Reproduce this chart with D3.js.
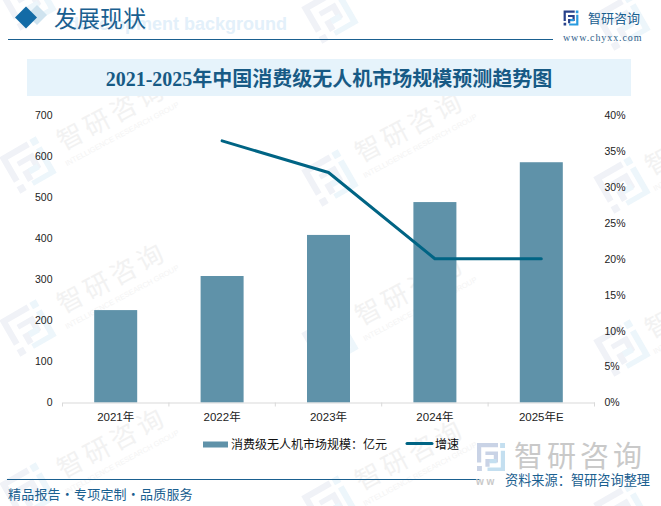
<!DOCTYPE html>
<html>
<head>
<meta charset="utf-8">
<script src="https://cdn.jsdelivr.net/npm/d3@7/dist/d3.min.js"></script>
<style>
html,body{margin:0;padding:0;background:#fff;overflow:hidden}
svg{display:block}
text{font-family:"Liberation Sans","Noto Sans CJK SC",sans-serif}
</style>
</head>
<body>
<div id="chart"></div>
<script>
var years = ["2021年","2022年","2023年","2024年","2025年E"];
var marketSize = [225,308,408,488,585];
var growth = [null,36.4,32,20,20];
var leftTicks = [0,100,200,300,400,500,600,700];
var rightTicks = [0,5,10,15,20,25,30,35,40];
var wmLogos = [[28,2],[330,15],[622,22],[28,165],[28,328],[28,491],[330,178],[330,341],[330,504],[622,185],[622,348],[622,511]];
var wmTexts = [[112,115],[112,278],[112,443],[410,127],[410,290],[410,455],[700,140],[700,303]];

var w = 661, h = 506;
var svg = d3.select("#chart").append("svg").attr("width", w).attr("height", h);
var cjk = '"Noto Sans CJK SC",sans-serif';
var blue = "#1a6090";

// logo drawn around 0,0 in a 40x40 box
function logo(g, dark, light) {
	g.append("path").attr("fill", dark)
		.attr("d", "M-20,-20H10V-14H-14V8H-20Z M-8,-8H10V8H-2V14H-8V3H4V-3H-8Z M-20,13H-13V20H-20Z");
	g.append("path").attr("fill", light)
		.attr("d", "M13,-20H20V-13H13Z M13,-9H20V20H-5V15H14V-9Z M-2,3H8V9H-2Z");
}

var marks = svg.append("g");
wmLogos.forEach(function(d) {
	var g = marks.append("g").attr("transform", "translate(" + d[0] + "," + d[1] + ") rotate(-30) scale(1.05)");
	logo(g, "#f0f2f7", "#edf6fb");
});
wmTexts.forEach(function(d) {
	var g = marks.append("g").attr("transform", "translate(" + d[0] + "," + d[1] + ") rotate(-28)");
	g.append("text").text("智研咨询").attr("text-anchor", "middle").attr("y", 9)
		.attr("font-size", 26).attr("letter-spacing", 4).attr("fill", "#f2f2f2").style("font-family", cjk);
	g.append("text").text("INTELLIGENCE RESEARCH GROUP").attr("text-anchor", "middle").attr("y", 24)
		.attr("font-size", 7.5).attr("fill", "#f4f4f4");
});

// header
svg.append("text").text("development background").attr("x", 287).attr("y", 29.5).attr("text-anchor", "end")
	.attr("font-size", 18).attr("font-weight", "bold").attr("fill", "#e3f0fa");
svg.append("path").attr("d", "M37,5L47,15L37,25L27,15Z").attr("fill", "#cfe3ef");
svg.append("path").attr("d", "M26,6.5L37,17.5L26,28.5L15,17.5Z").attr("fill", "#136ba6");
svg.append("text").text("发展现状").attr("x", 54).attr("y", 27).attr("font-size", 23)
	.attr("fill", blue).style("font-family", cjk);
svg.append("line").attr("x1", 8).attr("x2", 553).attr("y1", 39.5).attr("y2", 39.5)
	.attr("stroke", blue).attr("stroke-width", 1.2);

var topLogo = svg.append("g").attr("transform", "translate(571,18) scale(0.37)");
logo(topLogo, "#28418a", "#2a9be0");
svg.append("text").text("智研咨询").attr("x", 588).attr("y", 23).attr("font-size", 13)
	.attr("fill", blue).style("font-family", cjk);
svg.append("text").text("www.chyxx.com").attr("x", 563).attr("y", 41).attr("font-size", 10)
	.attr("letter-spacing", 0.9).attr("fill", "#2f5f8a").style("font-family", '"Liberation Serif",serif');

// title band
svg.append("rect").attr("x", 27).attr("y", 59).attr("width", 604).attr("height", 37).attr("fill", "#e6f3fb");
svg.append("text").text("2021-2025年中国消费级无人机市场规模预测趋势图").attr("x", 329).attr("y", 86)
	.attr("text-anchor", "middle").attr("font-size", 20).attr("font-weight", "bold")
	.attr("fill", "#175a85").style("font-family", '"Liberation Serif","Noto Sans CJK SC",serif');

// scales
var x = d3.scaleBand().domain(years).range([62.5, 594.5]);
var yL = d3.scaleLinear().domain([0, 700]).range([402.5, 115]);
var yR = d3.scaleLinear().domain([0, 40]).range([402.5, 115]);
var barW = 43;

svg.selectAll("rect.bar").data(years).enter().append("rect").attr("class", "bar")
	.attr("x", function(d) { return x(d) + x.bandwidth() / 2 - barW / 2; })
	.attr("width", barW)
	.attr("y", function(d, i) { return yL(marketSize[i]); })
	.attr("height", function(d, i) { return yL(0) - yL(marketSize[i]); })
	.attr("fill", "#5f92a9");

// axes
var gx = svg.append("g").attr("transform", "translate(0,402.5)")
	.call(d3.axisBottom(x).tickSize(0).tickPadding(10));
gx.select(".domain").attr("stroke", "#d9d9d9");
gx.selectAll("text").attr("font-size", 11.5).attr("fill", "#222").style("font-family", '"Liberation Sans","Noto Sans CJK SC",sans-serif');
gx.selectAll("line.edge").data(years.concat("end")).enter().append("line").attr("class", "edge")
	.attr("x1", function(d) { return d === "end" ? x.range()[1] : x(d); })
	.attr("x2", function(d) { return d === "end" ? x.range()[1] : x(d); })
	.attr("y1", 0).attr("y2", 4).attr("stroke", "#d9d9d9");

var gl = svg.append("g").attr("transform", "translate(62.5,0)")
	.call(d3.axisLeft(yL).tickValues(leftTicks).tickSize(0).tickPadding(10));
gl.select(".domain").remove();
var gr = svg.append("g").attr("transform", "translate(594.5,0)")
	.call(d3.axisRight(yR).tickValues(rightTicks).tickSize(0).tickPadding(10)
		.tickFormat(function(d) { return d + "%"; }));
gr.select(".domain").remove();
svg.selectAll("g.tick text").filter(function() { return !/年/.test(this.textContent); })
	.attr("font-size", 10.5).attr("fill", "#222").style("font-family", '"Liberation Sans",sans-serif');

// growth line
var line = d3.line()
	.defined(function(d) { return d != null; })
	.x(function(d, i) { return x(years[i]) + x.bandwidth() / 2; })
	.y(function(d) { return yR(d); });
svg.append("path").attr("d", line(growth)).attr("fill", "none").attr("stroke", "#006484")
	.attr("stroke-width", 3).attr("stroke-linecap", "round").attr("stroke-linejoin", "round");

// legend
svg.append("rect").attr("x", 203).attr("y", 441.5).attr("width", 25).attr("height", 6).attr("fill", "#5f92a9");
svg.append("text").text("消费级无人机市场规模\uFF1A亿元").attr("x", 231).attr("y", 449).attr("font-size", 12)
	.attr("fill", "#111").style("font-family", cjk);
svg.append("line").attr("x1", 407).attr("x2", 432).attr("y1", 443.5).attr("y2", 443.5)
	.attr("stroke", "#006484").attr("stroke-width", 3).attr("stroke-linecap", "round");
svg.append("text").text("增速").attr("x", 435).attr("y", 449).attr("font-size", 12)
	.attr("fill", "#111").style("font-family", cjk);

// footer
var botLogo = svg.append("g").attr("transform", "translate(491,457) scale(0.7)");
logo(botLogo, "#c9d3e6", "#c4dff0");
svg.append("text").text("智研咨询").attr("x", 514).attr("y", 467).attr("font-size", 29)
	.attr("letter-spacing", 4).attr("fill", "#c9c9c9").style("font-family", cjk);
svg.append("line").attr("x1", 7).attr("x2", 480).attr("y1", 479.5).attr("y2", 479.5)
	.attr("stroke", blue).attr("stroke-width", 1.2);
svg.append("text").text("w w").attr("x", 476).attr("y", 485).attr("font-size", 10)
	.attr("fill", "#c9c9c9").attr("font-weight", "bold");
svg.append("text").text("资料来源\uFF1A智研咨询整理").attr("x", 505).attr("y", 485).attr("font-size", 13.2)
	.attr("fill", blue).style("font-family", cjk);
svg.append("text").text("精品报告\u00B7专项定制\u00B7品质服务").attr("x", 8).attr("y", 499).attr("font-size", 13)
	.attr("letter-spacing", 0.2).attr("fill", blue).style("font-family", cjk);
</script>
</body>
</html>
